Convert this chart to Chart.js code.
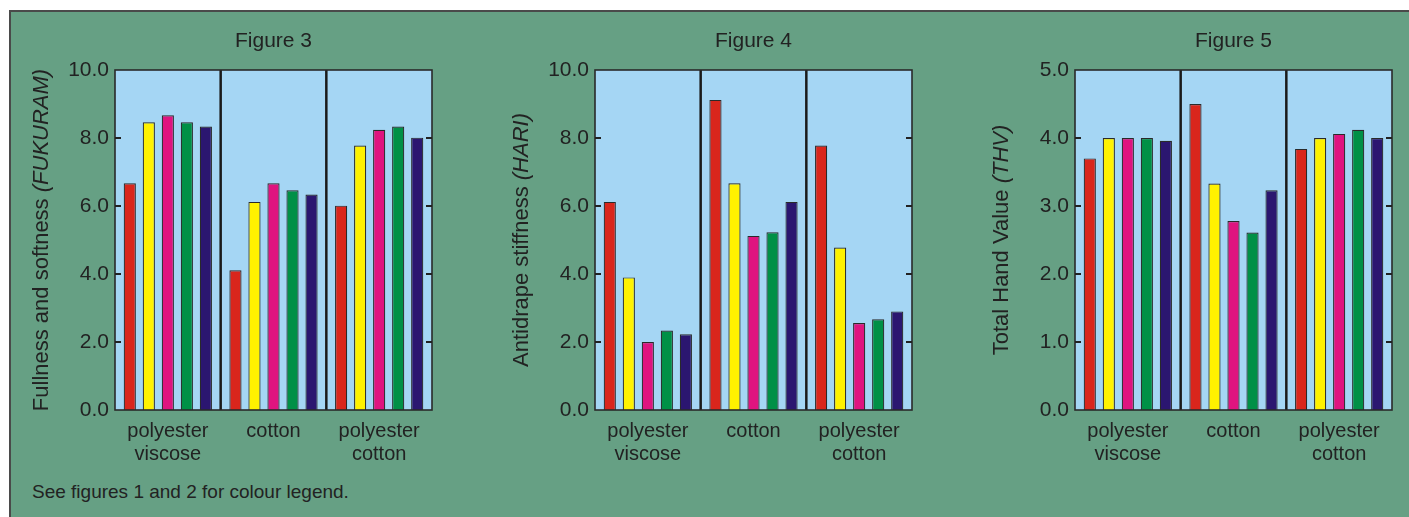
<!DOCTYPE html>
<html>
<head>
<meta charset="utf-8">
<script src="https://cdn.jsdelivr.net/npm/chart.js@4/dist/chart.umd.min.js"></script>
<style>
  html, body { margin: 0; padding: 0; background: #fff; overflow: hidden; }
  body { width: 1409px; height: 517px; position: relative; font-family: "Liberation Sans", Arial, sans-serif; }
  #panel {
    position: absolute; left: 9px; top: 10px; width: 1420px; height: 520px;
    background: #66a084; border-top: 2px solid #4a4a4a; border-left: 2px solid #4a4a4a;
  }
  .box { position: absolute; top: 20px; width: 425px; height: 450px; }
  .box canvas { display: block; }
  #note { position: absolute; left: 32px; top: 481px; font-size: 19px; color: #222; white-space: nowrap; }
</style>
</head>
<body>
<div id="panel"></div>
<div class="box" style="left:20px"><canvas id="fig3"></canvas></div>
<div class="box" style="left:500px"><canvas id="fig4"></canvas></div>
<div class="box" style="left:980px"><canvas id="fig5"></canvas></div>
<div id="note">See figures 1 and 2 for colour legend.</div>
<script>
// categories shared by all three figures
const categories = [['polyester', 'viscose'], 'cotton', ['polyester', 'cotton']];

// one colour per fabric finish (legend lives in figures 1 and 2)
const seriesColors = ['#d9261c', '#fff200', '#df147f', '#009046', '#2b1670'];

// values per series, across the three categories
const fig3Values = [
  [6.67, 4.11, 6.01],
  [8.46, 6.12, 7.78],
  [8.67, 6.67, 8.24],
  [8.46, 6.46, 8.34],
  [8.34, 6.34, 8.01],
];
const fig4Values = [
  [6.12, 9.12, 7.78],
  [3.90, 6.67, 4.78],
  [2.00, 5.12, 2.56],
  [2.34, 5.23, 2.67],
  [2.23, 6.12, 2.90],
];
const fig5Values = [
  [3.70, 4.50, 3.84],
  [4.00, 3.33, 4.00],
  [4.00, 2.78, 4.06],
  [4.00, 2.61, 4.12],
  [3.96, 3.23, 4.00],
];

const FONT = '"Liberation Sans", Arial, sans-serif';
const INK = '#222';

// light blue plot background, frame and inward tick marks on both sides
const plotFrame = {
  id: 'plotFrame',
  beforeDatasetsDraw(chart) {
    const { ctx, chartArea: a } = chart;
    ctx.save();
    ctx.fillStyle = '#a5d6f4';
    ctx.fillRect(a.left, a.top, a.right - a.left, a.bottom - a.top);
    // category dividers
    const x = chart.scales.x;
    ctx.strokeStyle = '#1a1a1a';
    ctx.lineWidth = 2.5;
    for (let i = 1; i < categories.length; i++) {
      const px = (x.getPixelForTick(i - 1) + x.getPixelForTick(i)) / 2;
      ctx.beginPath();
      ctx.moveTo(px, a.top);
      ctx.lineTo(px, a.bottom);
      ctx.stroke();
    }
    ctx.restore();
  },
  afterDatasetsDraw(chart) {
    const { ctx, chartArea: a } = chart;
    const y = chart.scales.y;
    ctx.save();
    ctx.strokeStyle = '#2a2a2a';
    ctx.lineWidth = 1.6;
    ctx.strokeRect(a.left, a.top, a.right - a.left, a.bottom - a.top);
    ctx.lineWidth = 2;
    ctx.strokeStyle = INK;
    y.ticks.forEach(t => {
      if (t.value === y.min || t.value === y.max) return;
      const py = y.getPixelForValue(t.value);
      ctx.beginPath();
      ctx.moveTo(a.left, py); ctx.lineTo(a.left + 6, py);
      ctx.moveTo(a.right - 6, py); ctx.lineTo(a.right, py);
      ctx.stroke();
    });
    ctx.restore();
  },
  afterDraw(chart) {
    // rotated y title, with the Japanese term in italics
    const opts = chart.options.plugins.plotFrame;
    const { ctx, chartArea: a } = chart;
    const size = 22;
    ctx.save();
    ctx.translate(a.left - 73.5, (a.top + a.bottom) / 2);
    ctx.rotate(-Math.PI / 2);
    ctx.fillStyle = INK;
    ctx.textBaseline = 'middle';
    ctx.font = size + 'px ' + FONT;
    const w1 = ctx.measureText(opts.title).width;
    ctx.font = 'italic ' + size + 'px ' + FONT;
    const w2 = ctx.measureText(opts.term).width;
    let x0 = -(w1 + w2) / 2;
    ctx.font = size + 'px ' + FONT;
    ctx.fillText(opts.title, x0, 0);
    ctx.font = 'italic ' + size + 'px ' + FONT;
    ctx.fillText(opts.term, x0 + w1, 0);
    ctx.restore();
  },
};

function drawFigure(id, heading, title, term, values, max, step) {
  const datasets = values.map((v, i) => ({
    data: v,
    backgroundColor: seriesColors[i],
    borderColor: '#2a2a2a',
    borderWidth: 1.2,
    categoryPercentage: 0.9,
    barPercentage: 0.64,
  }));
  return new Chart(document.getElementById(id), {
    type: 'bar',
    data: { labels: categories, datasets },
    plugins: [plotFrame],
    options: {
      responsive: true,
      maintainAspectRatio: false,
      animation: false,
      devicePixelRatio: 1,
      layout: { padding: { left: 0, right: 13, top: 0, bottom: 0 } },
      plugins: {
        legend: { display: false },
        tooltip: { enabled: false },
        title: {
          display: true, text: heading, fullSize: false, color: INK,
          font: { family: FONT, size: 21, weight: 'normal', lineHeight: 1 },
          padding: { top: 11, bottom: 18 },
        },
        plotFrame: { title, term },
      },
      scales: {
        x: {
          grid: { display: false, drawTicks: false },
          border: { display: false },
          ticks: { color: INK, padding: 10, font: { family: FONT, size: 20, lineHeight: 1.15 } },
          afterFit: s => { s.height = 60; },
        },
        y: {
          min: 0, max,
          grid: { display: false, drawTicks: false },
          border: { display: false },
          ticks: {
            stepSize: step, color: INK, padding: 6,
            font: { family: FONT, size: 21 },
            callback: v => v.toFixed(1),
          },
          afterFit: s => { s.width = 95; },
        },
      },
    },
  });
}

drawFigure('fig3', 'Figure 3', 'Fullness and softness ', '(FUKURAM)', fig3Values, 10, 2);
drawFigure('fig4', 'Figure 4', 'Antidrape stiffness ', '(HARI)', fig4Values, 10, 2);
drawFigure('fig5', 'Figure 5', 'Total Hand Value ', '(THV)', fig5Values, 5, 1);
</script>
</body>
</html>
